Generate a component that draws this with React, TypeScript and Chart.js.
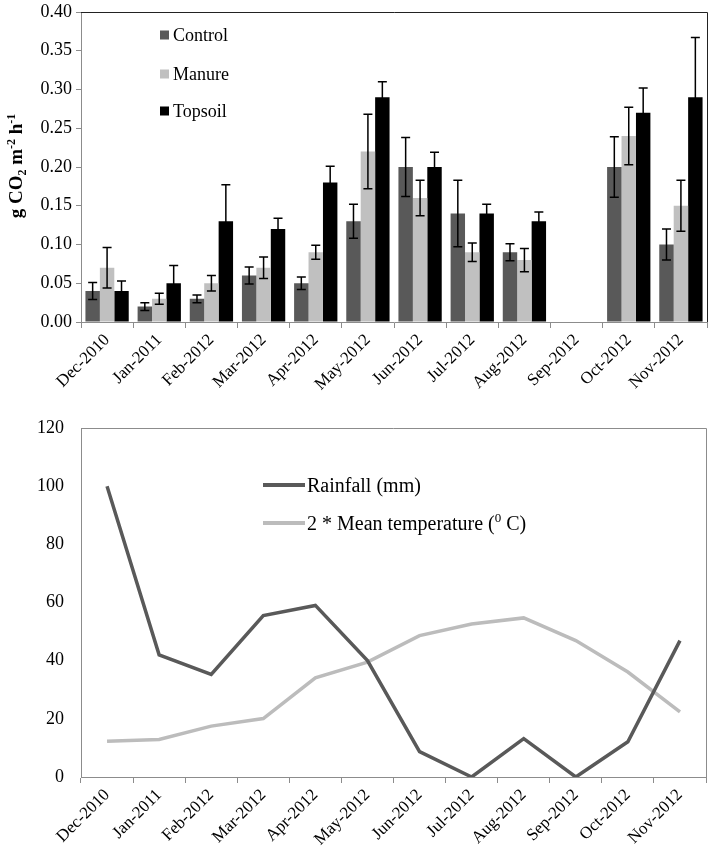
import React, { useEffect, useRef } from "react";
import { Chart, registerables } from "chart.js";

Chart.register(...registerables);

const FONT = "'Liberation Serif', 'Times New Roman', Times, serif";

const months = [
  "Dec-2010", "Jan-2011", "Feb-2012", "Mar-2012", "Apr-2012", "May-2012",
  "Jun-2012", "Jul-2012", "Aug-2012", "Sep-2012", "Oct-2012", "Nov-2012",
];

const control = [0.04, 0.02, 0.03, 0.06, 0.05, 0.13, 0.2, 0.14, 0.09, null, 0.2, 0.1];
const controlErr = [0.011, 0.005, 0.005, 0.011, 0.008, 0.022, 0.038, 0.043, 0.011, null, 0.039, 0.02];
const manure = [0.07, 0.03, 0.05, 0.07, 0.09, 0.22, 0.16, 0.09, 0.08, null, 0.24, 0.15];
const manureErr = [0.026, 0.007, 0.01, 0.014, 0.009, 0.048, 0.023, 0.012, 0.015, null, 0.037, 0.033];
const topsoil = [0.04, 0.05, 0.13, 0.12, 0.18, 0.29, 0.2, 0.14, 0.13, null, 0.27, 0.29];
const topsoilErr = [0.013, 0.023, 0.047, 0.014, 0.021, 0.02, 0.019, 0.012, 0.012, null, 0.032, 0.077];

const rainfall = [100, 42, 35.3, 55.5, 59, 40, 8.7, 0, 13.2, 0, 12.1, 46.9];
const meanTemp2 = [12.3, 12.9, 17.5, 20.1, 34.1, 39.5, 48.6, 52.6, 54.7, 46.9, 36.1, 22.4];

const co2Title = "g CO₂ m⁻² h⁻¹";
const barLabels = ["Control", "Manure", "Topsoil"];
const lineLabels = ["Rainfall (mm)", "2 * Mean temperature (⁰ C)"];

const SUP: Record<string, string> = { "⁰": "0", "¹": "1", "²": "2", "³": "3", "⁻": "-" };
const SUB: Record<string, string> = { "₂": "2" };

function splitRich(text: string) {
  const parts: { mode: string; text: string }[] = [];
  for (const ch of Array.from(text)) {
    const mode = SUP[ch] ? "sup" : SUB[ch] ? "sub" : "n";
    const c = SUP[ch] || SUB[ch] || ch;
    const last = parts[parts.length - 1];
    if (last && last.mode === mode) last.text += c;
    else parts.push({ mode, text: c });
  }
  return parts;
}

function drawRich(
  ctx: CanvasRenderingContext2D,
  text: string,
  x: number,
  y: number,
  size: number,
  weight: string,
  align: "left" | "center"
) {
  const parts = splitRich(text);
  const fontFor = (m: string) =>
    `${weight} ${m === "n" ? size : Math.round(size * 0.65)}px ${FONT}`;
  let total = 0;
  const widths = parts.map((p) => {
    ctx.font = fontFor(p.mode);
    const w = ctx.measureText(p.text).width;
    total += w;
    return w;
  });
  let cx = align === "center" ? x - total / 2 : x;
  const base = y + size * 0.33;
  ctx.textAlign = "left";
  ctx.textBaseline = "alphabetic";
  parts.forEach((p, i) => {
    ctx.font = fontFor(p.mode);
    const dy = p.mode === "sup" ? -size * 0.38 : p.mode === "sub" ? size * 0.2 : 0;
    ctx.fillText(p.text, cx, base + dy);
    cx += widths[i];
  });
}

const errorBarPlugin = {
  id: "errorBars",
  afterDatasetsDraw(chart: any) {
    const ctx = chart.ctx;
    const yScale = chart.scales.y;
    ctx.save();
    ctx.strokeStyle = "#000";
    ctx.lineWidth = 1.5;
    chart.data.datasets.forEach((ds: any, di: number) => {
      const meta = chart.getDatasetMeta(di);
      meta.data.forEach((el: any, i: number) => {
        const v = ds.data[i];
        const e = ds.errors ? ds.errors[i] : null;
        if (v == null || e == null) return;
        const x = el.x;
        const yt = yScale.getPixelForValue(v + e);
        const yb = yScale.getPixelForValue(v - e);
        const hw = 4.5;
        ctx.beginPath();
        ctx.moveTo(x, yt);
        ctx.lineTo(x, yb);
        ctx.moveTo(x - hw, yt);
        ctx.lineTo(x + hw, yt);
        ctx.moveTo(x - hw, yb);
        ctx.lineTo(x + hw, yb);
        ctx.stroke();
      });
    });
    ctx.restore();
  },
};

function framePlugin(color: string) {
  return {
    id: "frame",
    afterDraw(chart: any) {
      const { ctx, chartArea: a } = chart;
      ctx.save();
      ctx.strokeStyle = color;
      ctx.lineWidth = 1;
      ctx.beginPath();
      ctx.moveTo(a.left, a.top + 0.5);
      ctx.lineTo(a.right + 0.5, a.top + 0.5);
      ctx.lineTo(a.right + 0.5, a.bottom);
      ctx.stroke();
      ctx.restore();
    },
  };
}

const topExtras = {
  id: "topExtras",
  afterDraw(chart: any) {
    const ctx = chart.ctx;
    ctx.save();
    ctx.fillStyle = "#000";
    ctx.translate(16, 166);
    ctx.rotate(-Math.PI / 2);
    drawRich(ctx, co2Title, 0, 0, 19, "bold", "center");
    ctx.restore();
    ctx.save();
    const ys = [35, 74, 111];
    chart.data.datasets.forEach((ds: any, i: number) => {
      ctx.fillStyle = ds.backgroundColor;
      ctx.fillRect(160, ys[i] - 4.5, 9, 9);
      ctx.fillStyle = "#000";
      drawRich(ctx, ds.label, 173, ys[i], 18, "normal", "left");
    });
    ctx.restore();
  },
};

const bottomExtras = {
  id: "bottomExtras",
  afterDraw(chart: any) {
    const ctx = chart.ctx;
    ctx.save();
    const ys = [65, 103];
    chart.data.datasets.forEach((ds: any, i: number) => {
      ctx.strokeStyle = ds.borderColor;
      ctx.lineWidth = 4;
      ctx.beginPath();
      ctx.moveTo(263, ys[i]);
      ctx.lineTo(305, ys[i]);
      ctx.stroke();
      ctx.fillStyle = "#000";
      drawRich(ctx, ds.label, 307, ys[i], 20, "normal", "left");
    });
    ctx.restore();
  },
};

const noVPad = (s: any) => {
  s.paddingTop = 0;
  s.paddingBottom = 0;
};

export default function App() {
  const topRef = useRef<HTMLCanvasElement>(null);
  const botRef = useRef<HTMLCanvasElement>(null);

  useEffect(() => {
    Chart.defaults.font.family = FONT;
    Chart.defaults.color = "#000";
    const axisColor = "#8c8c8c";

    const top = new Chart(topRef.current as HTMLCanvasElement, {
      type: "bar",
      data: {
        labels: months,
        datasets: [
          { label: barLabels[0], data: control, backgroundColor: "#595959", errors: controlErr } as any,
          { label: barLabels[1], data: manure, backgroundColor: "#c0c0c0", errors: manureErr } as any,
          { label: barLabels[2], data: topsoil, backgroundColor: "#000000", errors: topsoilErr } as any,
        ],
      },
      options: {
        responsive: false,
        animation: false,
        layout: { padding: { left: 0, right: 7, top: 12, bottom: 0 } },
        datasets: { bar: { barPercentage: 1, categoryPercentage: 0.83 } } as any,
        plugins: { legend: { display: false }, tooltip: { enabled: false } },
        scales: {
          x: {
            grid: { offset: true, drawOnChartArea: false, tickLength: 6, color: axisColor },
            border: { color: axisColor },
            ticks: { minRotation: 45, maxRotation: 45, autoSkip: false, font: { size: 17, family: FONT }, color: "#000", padding: 2 },
            afterFit: (s: any) => { s.height = 98; },
          },
          y: {
            min: 0,
            max: 0.4,
            ticks: { stepSize: 0.05, callback: (v: any) => Number(v).toFixed(2), font: { size: 18, family: FONT }, color: "#000", padding: 4 },
            grid: { drawOnChartArea: false, tickLength: 5, color: axisColor },
            border: { color: axisColor },
            afterFit: (s: any) => { s.width = 81; noVPad(s); },
          },
        },
      },
      plugins: [errorBarPlugin, framePlugin("#222"), topExtras],
    });

    const bottom = new Chart(botRef.current as HTMLCanvasElement, {
      type: "line",
      data: {
        labels: months,
        datasets: [
          { label: lineLabels[0], data: rainfall, borderColor: "#595959", borderWidth: 3.5, pointRadius: 0, tension: 0, fill: false },
          { label: lineLabels[1], data: meanTemp2, borderColor: "#bcbcbc", borderWidth: 3.5, pointRadius: 0, tension: 0, fill: false },
        ],
      },
      options: {
        responsive: false,
        animation: false,
        layout: { padding: { left: 0, right: 8, top: 8, bottom: 0 } },
        plugins: { legend: { display: false }, tooltip: { enabled: false } },
        scales: {
          x: {
            offset: true,
            grid: { offset: true, drawOnChartArea: false, tickLength: 6, color: axisColor },
            border: { color: axisColor },
            ticks: { minRotation: 45, maxRotation: 45, autoSkip: false, font: { size: 17, family: FONT }, color: "#000", padding: 2 },
            afterFit: (s: any) => { s.height = 90; },
          },
          y: {
            min: 0,
            max: 120,
            ticks: { stepSize: 20, font: { size: 18, family: FONT }, color: "#000", padding: 17 },
            grid: { drawOnChartArea: false, drawTicks: false, color: axisColor },
            border: { color: axisColor },
            afterFit: (s: any) => { s.width = 81; noVPad(s); },
          },
        },
      },
      plugins: [framePlugin(axisColor), bottomExtras],
    });

    return () => {
      top.destroy();
      bottom.destroy();
    };
  }, []);

  return (
    <div style={{ position: "absolute", left: 0, top: 0, width: 714, height: 867, background: "#fff" }}>
      <canvas ref={topRef} width={714} height={420} style={{ position: "absolute", left: 0, top: 0, width: 714, height: 420 }} />
      <canvas ref={botRef} width={714} height={447} style={{ position: "absolute", left: 0, top: 420, width: 714, height: 447 }} />
    </div>
  );
}
